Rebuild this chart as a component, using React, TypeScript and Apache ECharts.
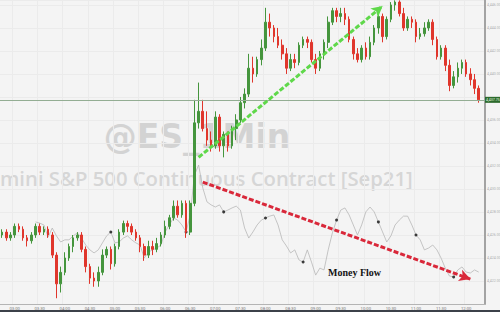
import React, { useEffect, useRef } from "react";
import * as echarts from "echarts";

// 5-minute bars, 02:45 .. 12:20
const times: string[] = [];
for (let i = 0; i < 116; i++) {
  const m = 2 * 60 + 45 + i * 5;
  times.push(`${String(Math.floor(m / 60)).padStart(2, "0")}:${String(m % 60).padStart(2, "0")}`);
}

// [open, close, low, high]
const candles: number[][] = [
  [4426.0, 4426.25, 4425.75, 4426.5], [4426.25, 4425.75, 4425.5, 4426.5], [4425.75, 4426.0, 4425.5, 4426.25],
  [4426.0, 4426.75, 4425.75, 4427.0], [4426.75, 4426.5, 4426.25, 4427.0], [4426.5, 4425.75, 4425.5, 4426.75],
  [4425.75, 4425.5, 4425.0, 4426.0], [4425.5, 4426.0, 4425.25, 4426.25], [4426.0, 4426.75, 4425.75, 4427.0],
  [4426.75, 4426.25, 4426.0, 4427.0], [4426.25, 4426.5, 4426.0, 4426.75], [4426.5, 4426.0, 4425.75, 4426.75],
  [4426.0, 4424.25, 4424.0, 4426.25], [4424.25, 4421.75, 4420.5, 4424.5], [4421.75, 4422.75, 4421.0, 4423.25],
  [4422.75, 4424.0, 4422.5, 4424.5], [4424.0, 4425.0, 4423.75, 4425.25], [4425.0, 4425.75, 4424.5, 4426.0],
  [4425.75, 4426.0, 4425.5, 4426.25], [4426.0, 4424.75, 4424.5, 4426.25], [4424.75, 4423.25, 4422.75, 4425.0],
  [4423.25, 4422.25, 4421.75, 4423.5], [4422.25, 4422.0, 4421.5, 4422.75], [4422.0, 4422.75, 4421.5, 4423.25],
  [4422.75, 4424.25, 4422.5, 4424.75], [4424.25, 4424.75, 4424.0, 4425.0], [4424.75, 4423.5, 4423.0, 4425.0],
  [4423.5, 4425.0, 4423.25, 4425.25], [4425.0, 4426.25, 4424.75, 4426.5], [4426.25, 4427.0, 4426.0, 4427.25],
  [4427.0, 4426.75, 4426.25, 4427.25], [4426.75, 4426.25, 4426.0, 4427.0], [4426.25, 4425.75, 4425.5, 4426.5],
  [4425.75, 4425.0, 4424.5, 4426.0], [4425.0, 4424.25, 4423.75, 4425.25], [4424.25, 4425.0, 4424.0, 4425.5],
  [4425.0, 4424.75, 4424.25, 4425.5], [4424.75, 4425.25, 4424.5, 4425.75], [4425.25, 4426.0, 4425.0, 4426.25],
  [4426.0, 4426.75, 4425.75, 4427.25], [4426.75, 4427.5, 4426.5, 4427.75], [4427.5, 4428.5, 4427.25, 4429.0],
  [4428.5, 4427.75, 4427.5, 4429.0], [4427.75, 4428.75, 4427.5, 4429.0], [4428.75, 4426.25, 4425.75, 4429.0],
  [4426.25, 4428.75, 4426.0, 4429.0], [4428.75, 4435.75, 4428.5, 4437.75], [4435.75, 4436.75, 4435.25, 4439.25],
  [4436.75, 4435.25, 4435.0, 4437.75], [4435.25, 4434.25, 4433.75, 4436.75], [4434.25, 4433.75, 4433.25, 4435.0],
  [4433.75, 4436.25, 4433.5, 4436.75], [4436.25, 4433.75, 4433.25, 4436.5], [4433.75, 4434.75, 4432.75, 4435.0],
  [4434.75, 4433.75, 4433.25, 4435.0], [4433.75, 4435.25, 4433.5, 4435.5], [4435.25, 4436.0, 4434.25, 4436.5],
  [4436.0, 4437.5, 4435.75, 4438.0], [4437.5, 4438.25, 4437.0, 4438.75], [4438.25, 4440.5, 4438.0, 4441.75],
  [4440.5, 4440.0, 4439.25, 4441.5], [4440.0, 4441.25, 4439.75, 4441.5], [4441.25, 4442.25, 4440.75, 4443.0],
  [4442.25, 4444.5, 4442.0, 4445.75], [4444.5, 4444.0, 4443.25, 4445.25], [4444.0, 4443.25, 4442.75, 4444.25],
  [4443.25, 4442.5, 4442.25, 4444.0], [4442.5, 4441.75, 4441.25, 4443.0], [4441.75, 4440.5, 4440.0, 4442.25],
  [4440.5, 4441.25, 4440.25, 4441.75], [4441.25, 4441.0, 4440.5, 4441.75], [4441.0, 4442.5, 4440.75, 4442.75],
  [4442.5, 4443.0, 4442.25, 4443.25], [4443.0, 4442.75, 4442.25, 4443.25], [4442.75, 4441.25, 4441.0, 4443.0],
  [4441.25, 4440.5, 4440.0, 4441.75], [4440.5, 4441.75, 4440.25, 4442.0], [4441.75, 4442.75, 4441.25, 4443.0],
  [4442.75, 4444.5, 4442.25, 4445.0], [4444.5, 4445.5, 4444.25, 4445.75], [4445.5, 4445.0, 4444.5, 4445.75],
  [4445.0, 4445.25, 4444.5, 4445.75], [4445.25, 4444.75, 4444.25, 4445.75], [4444.75, 4443.0, 4442.75, 4445.0],
  [4443.0, 4441.75, 4441.25, 4443.25], [4441.75, 4441.25, 4441.0, 4442.25], [4441.25, 4442.25, 4441.0, 4442.5],
  [4442.25, 4441.5, 4441.25, 4442.75], [4441.5, 4442.75, 4441.25, 4443.25], [4442.75, 4444.0, 4442.5, 4444.25],
  [4444.0, 4445.0, 4443.5, 4445.25], [4445.0, 4443.25, 4442.75, 4445.25], [4443.25, 4444.75, 4443.0, 4445.0],
  [4444.75, 4446.0, 4444.5, 4446.25], [4446.0, 4446.25, 4445.5, 4446.4], [4446.25, 4445.25, 4445.0, 4446.4],
  [4445.25, 4444.0, 4443.75, 4445.75], [4444.0, 4444.75, 4443.75, 4445.0], [4444.75, 4444.5, 4444.0, 4445.0],
  [4444.5, 4443.25, 4442.75, 4444.75], [4443.25, 4443.5, 4443.0, 4444.0], [4443.5, 4444.0, 4443.25, 4444.5],
  [4444.0, 4444.5, 4443.75, 4444.75], [4444.5, 4443.0, 4442.5, 4444.75], [4443.0, 4441.5, 4441.25, 4443.25],
  [4441.5, 4442.25, 4441.25, 4442.5], [4442.25, 4440.75, 4440.25, 4442.5], [4440.75, 4439.0, 4438.5, 4441.25],
  [4439.0, 4439.75, 4438.75, 4440.25], [4439.75, 4440.5, 4439.25, 4441.0], [4440.5, 4441.0, 4440.0, 4441.25],
  [4441.0, 4440.0, 4439.75, 4441.25], [4440.0, 4439.5, 4439.0, 4440.5], [4439.5, 4438.75, 4438.25, 4440.0],
  [4438.75, 4437.75, 4437.5, 4439.0],
];

// Money flow (arbitrary units on a hidden 0..100 axis), "-" = no value
const moneyFlow: (number | string)[] = [
  "-", "-", "-", "-", "-", "-", "-", "-",
  27.0, 26.6, 26.0, 22.0, 25.0, 22.4, 20.4, 21.1, 21.1, 22.4,
  23.4, 21.7, 19.4, 17.8, 16.8, 17.8, 20.1, 22.4, 23.7, 20.1,
  20.4, 21.7, 22.4, 21.1, 20.1, 19.4, 15.1, 17.1, 17.8, 18.4,
  19.4, 23.7, 26.0, 28.3, 27.6, 26.0, 23.7, 29.3, 42.4, 45.7,
  38.2, 33.6, 32.6, 31.9, 32.6, 30.3, 30.9, 31.6, 32.2, 30.9,
  25.0, 21.7, 23.7, 26.0, 27.6, 28.3, 28.9, 29.3, 26.0, 21.1,
  19.1, 16.8, 17.8, 14.5, 13.8, 17.8, 13.8, 9.5, 11.8, 11.2,
  17.8, 23.4, 27.6, 30.9, 31.6, 29.3, 26.0, 22.7, 26.0, 30.3,
  31.9, 30.3, 27.0, 23.7, 20.4, 22.4, 26.0, 27.6, 28.9, 28.9,
  26.0, 22.7, 21.1, 17.8, 18.4, 19.4, 17.8, 15.1, 11.8, 9.2,
  8.9, 11.2, 12.2, 10.5, 10.2, 11.2, 10.5, "-",
];
const moneyFlowDots: number[] = [26, 44, 53, 63, 72, 80, 90, 99, 108];

// annotation arrows: [categoryIndex, value]
const greenArrow: number[][] = [[47, 4432.75], [91, 4445.9]];
const redArrow: number[][] = [[48, 40.1], [112, 8.2]];

const priceMin = 4420;
const priceMax = 4446.43;
const priceStep = 2;
const lastPrice = candles[candles.length - 1][1];

const fmt = (v: number) =>
  v.toLocaleString("en-US", { minimumFractionDigits: 2, maximumFractionDigits: 2 });

const isLabelTime = (_i: number, v: string) => v.endsWith(":00") || v.endsWith(":30");

const arrowLine = (pts: number[][], color: string) => ({
  silent: true,
  symbol: ["none", "arrow"],
  symbolSize: [9, 11],
  label: { show: false },
  emphasis: { disabled: true },
  lineStyle: { color, width: 3, type: [5, 2] },
  data: [
    [
      { coord: [times[pts[0][0]], pts[0][1]] },
      { coord: [times[pts[1][0]], pts[1][1]] },
    ],
  ],
});

export default function App() {
  const ref = useRef<HTMLDivElement>(null);
  useEffect(() => {
    if (!ref.current) return;
    const chart = echarts.init(ref.current, undefined, { renderer: "svg" });
    const option: any = {
      animation: false,
      backgroundColor: "#f4f4f4",
      grid: { left: 0, right: 15, top: 0, bottom: 8, containLabel: false, outerBoundsMode: "none" },
      xAxis: {
        type: "category",
        data: times,
        boundaryGap: true,
        axisLine: { lineStyle: { color: "#b4b4b4", width: 1 } },
        axisTick: { show: false },
        axisLabel: {
          interval: isLabelTime,
          fontSize: 4.2,
          color: "#777",
          margin: 2,
          fontFamily: "Roboto",
        },
        splitLine: { show: true, interval: isLabelTime, lineStyle: { color: "#ebebeb", width: 1 } },
      },
      yAxis: [
        {
          type: "value",
          position: "right",
          min: priceMin,
          max: priceMax,
          interval: priceStep,
          axisLine: { show: true, lineStyle: { color: "#a3a3a3", width: 2 } },
          axisTick: { show: false },
          axisLabel: {
            fontSize: 3.6,
            color: "#b0b0b0",
            margin: 2,
            showMinLabel: false,
            showMaxLabel: false,
            fontFamily: "Roboto",
            formatter: (v: number) => (Math.abs(v - lastPrice) < 1 ? "" : fmt(v)),
          },
          splitLine: { show: true, lineStyle: { color: "#ebebeb", width: 1 } },
        },
        { type: "value", min: 0, max: 100, show: false },
      ],
      graphic: [
        {
          type: "text",
          x: 197,
          y: 136,
          z: 0,
          silent: true,
          style: {
            text: "@ES_1Min",
            fontFamily: "DejaVu Sans",
            fontWeight: "bold",
            fontSize: 33,
            fill: "#d3d3d3",
            align: "center",
            verticalAlign: "middle",
          },
        },
        {
          type: "text",
          x: 0,
          y: 178,
          z: 0,
          silent: true,
          style: {
            text: "mini S&P 500 Continuous Contract [Sep21]",
            fontFamily: "Open Sans",
            fontWeight: 600,
            fontSize: 20.3,
            fill: "#d6d6d6",
            align: "left",
            verticalAlign: "middle",
          },
        },
        {
          type: "text",
          x: 328,
          y: 272,
          z: 10,
          silent: true,
          style: {
            text: "Money Flow",
            fontFamily: "Liberation Serif",
            fontWeight: "bold",
            fontSize: 10,
            fill: "#151515",
            align: "left",
            verticalAlign: "middle",
          },
        },
        {
          type: "rect",
          left: 0,
          top: 310,
          z: 10,
          silent: true,
          shape: { width: 500, height: 2 },
          style: { fill: "#3c414a" },
        },
      ],
      series: [
        {
          type: "line",
          yAxisIndex: 1,
          data: moneyFlow,
          symbol: "none",
          z: 2,
          lineStyle: { color: "#b8b8b8", width: 0.8 },
          markLine: arrowLine(redArrow, "#d9283a"),
        },
        {
          type: "scatter",
          yAxisIndex: 1,
          symbolSize: 3,
          z: 3,
          itemStyle: { color: "#111" },
          data: moneyFlowDots.map((i) => [times[i], moneyFlow[i]]),
        },
        {
          type: "candlestick",
          yAxisIndex: 0,
          data: candles,
          barMaxWidth: 2.5,
          z: 4,
          itemStyle: {
            color: "#45953d",
            color0: "#e0362c",
            borderColor: "#45953d",
            borderColor0: "#e0362c",
            borderWidth: 1,
          },
          markLine: {
            silent: true,
            symbol: "none",
            data: [
              {
                yAxis: lastPrice,
                lineStyle: { color: "#93ad93", width: 1, type: "solid" },
                label: {
                  show: true,
                  position: "end",
                  formatter: fmt(lastPrice),
                  backgroundColor: "#2c6a2c",
                  color: "#e6ffe6",
                  fontSize: 3.6,
                  padding: [1, 1, 1, 1],
                  distance: 0,
                  fontFamily: "Roboto",
                },
              },
            ],
          },
        },
        {
          type: "line",
          yAxisIndex: 0,
          data: times.map(() => "-"),
          symbol: "none",
          z: 5,
          markLine: arrowLine(greenArrow, "#5fd84a"),
        },
      ],
    };
    chart.setOption(option);
    return () => chart.dispose();
  }, []);
  return (
    <div
      ref={ref}
      style={{ position: "absolute", left: 0, top: 0, width: 500, height: 312 }}
    />
  );
}
